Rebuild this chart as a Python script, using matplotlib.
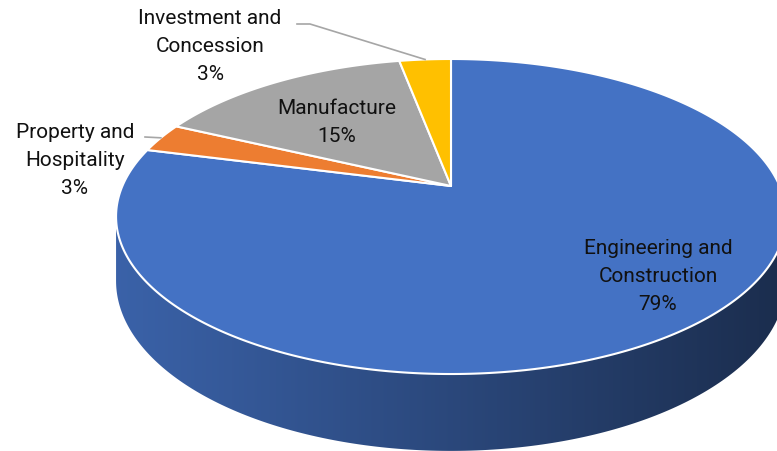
import numpy as np
import matplotlib.pyplot as plt
from matplotlib.patches import Polygon
from matplotlib.colors import to_rgb

# business segments share
labels = ['Engineering and\nConstruction', 'Property and\nHospitality',
          'Manufacture', 'Investment and\nConcession']
values = [79, 3, 15, 3]
colors = ['#4472C4', '#ED7D31', '#A5A5A5', '#FFC000']

# label anchors (screen px) and whether a leader line is used
label_pos = [(658, 277), (75, 161), (337, 123), (210, 47)]
leader_from = [None, [(145, 138)], None, [(297, 25), (310, 25)]]

# perspective disk: centre, radii, foreshortening and thickness
CX, CY = 451, 187
A, B, P, H = 328.6, 151.6, 0.1937, 62


def project(phi, depth=0.0, r=1.0):
    """phi measured clockwise from 12 o'clock, depth 0 = top face, 1 = bottom."""
    u = r * np.sin(phi)
    v = r * np.cos(phi)
    w = 1 + P * v
    return CX + A * u / w, CY + (-B * v + H * depth) / w


def shade(x):
    return np.interp(x, [116, 450, 777], [0.86, 0.63, 0.40])


fig = plt.figure(figsize=(7.77, 4.52), dpi=100)
ax = fig.add_axes([0, 0, 1, 1])

frac = np.array(values) / np.sum(values)
ends = np.cumsum(frac) * 2 * np.pi
starts = ends - frac * 2 * np.pi

# visible front part of the side wall
lo = np.arccos(-P)
hi = 2 * np.pi - lo

for s, e, c in zip(starts, ends, colors):
    a0, a1 = max(s, lo), min(e, hi)
    if a1 <= a0:
        continue
    phi = np.linspace(a0, a1, 200)
    xt, yt = project(phi, 0)
    xb, yb = project(phi[::-1], 1)
    pts = np.column_stack([np.r_[xt, xb], np.r_[yt, yb]])
    side = Polygon(pts, closed=True, facecolor='none', edgecolor='none')
    ax.add_patch(side)
    xs = np.linspace(pts[:, 0].min(), pts[:, 0].max(), 400)
    grad = np.array(to_rgb(c))[None, None, :] * shade(xs)[None, :, None]
    im = ax.imshow(grad, extent=[xs[0], xs[-1], pts[:, 1].max(), pts[:, 1].min()],
                   aspect='auto', interpolation='bilinear', zorder=1)
    im.set_clip_path(side)

# top face wedges
for s, e, c in zip(starts, ends, colors):
    phi = np.linspace(s, e, max(int((e - s) * 80), 4))
    xt, yt = project(phi, 0)
    pts = np.column_stack([np.r_[CX, xt], np.r_[CY, yt]])
    ax.add_patch(Polygon(pts, closed=True, facecolor=c, edgecolor='white',
                         linewidth=1.5, joinstyle='round', zorder=2))

# labels and leader lines
for lab, v, pos, lead, s, e in zip(labels, values, label_pos, leader_from, starts, ends):
    ax.text(pos[0], pos[1], f'{lab}\n{v}%', ha='center', va='center',
            multialignment='center', fontsize=15, family='Roboto',
            linespacing=1.6, color='#111111', zorder=3)
    if lead is not None:
        mx, my = project((s + e) / 2, 0)
        lx = [p[0] for p in lead] + [mx]
        ly = [p[1] for p in lead] + [my]
        ax.plot(lx, ly, color='#A6A6A6', lw=1.2, zorder=3)

ax.set_xlim(0, 777)
ax.set_ylim(452, 0)
ax.axis('off')
fig.savefig('out.png', dpi=100)
